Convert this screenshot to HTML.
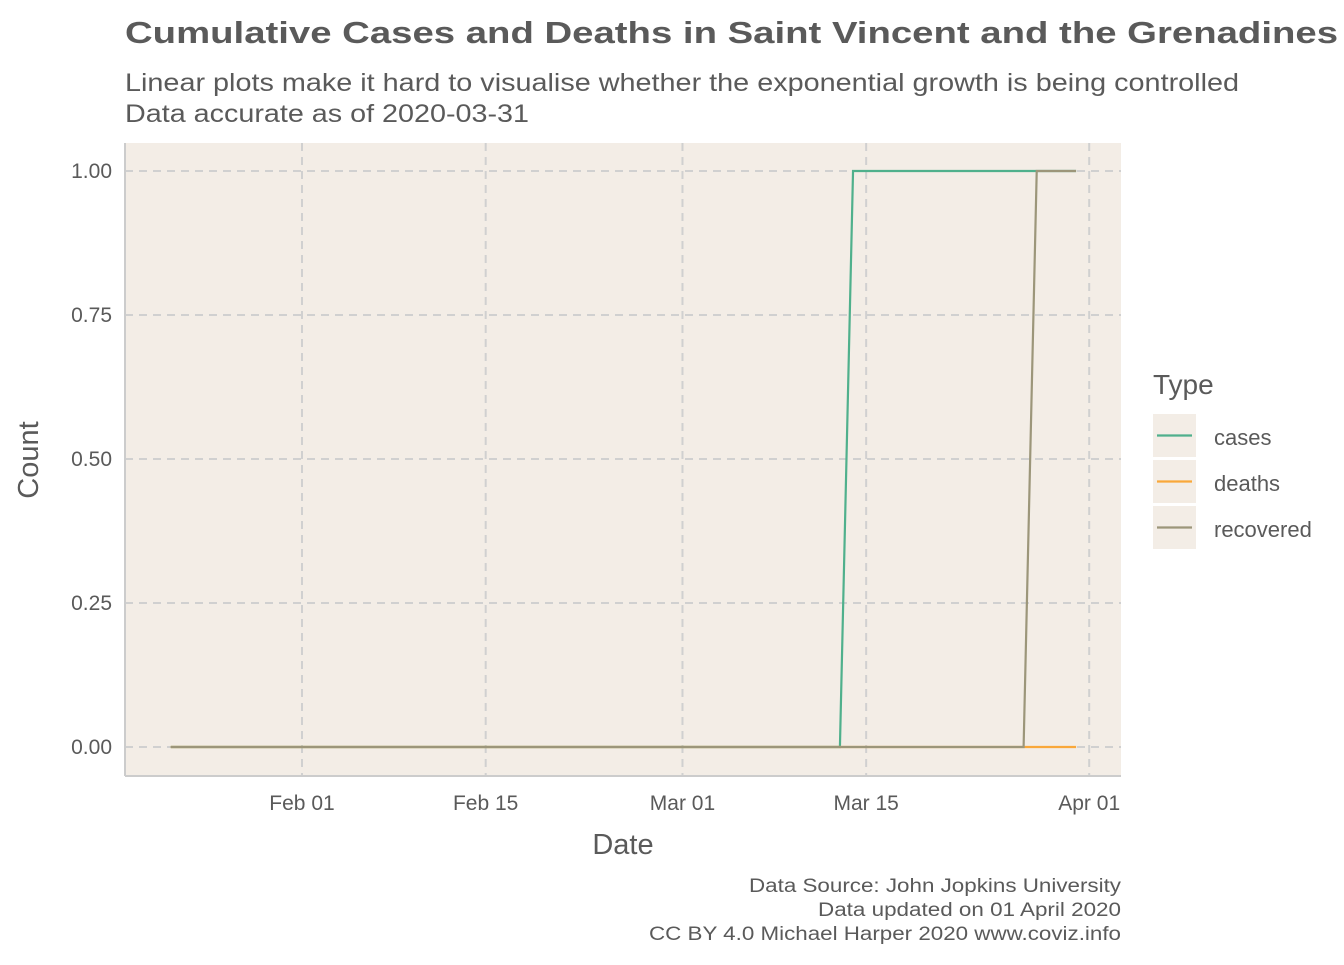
<!DOCTYPE html>
<html><head><meta charset="utf-8"><style>
body{margin:0;background:#fff;font-family:"Liberation Sans",Arial,sans-serif}
svg text{font-family:"Liberation Sans",Arial,sans-serif}
</style></head><body>
<svg id="chart" width="1344" height="960">
<text x="125" y="43" font-size="31" font-weight="bold" fill="#5a5a5a" textLength="1213" lengthAdjust="spacingAndGlyphs">Cumulative Cases and Deaths in Saint Vincent and the Grenadines</text>
<text x="125" y="91" font-size="25" fill="#5a5a5a" textLength="1114" lengthAdjust="spacingAndGlyphs">Linear plots make it hard to visualise whether the exponential growth is being controlled</text>
<text x="125" y="122" font-size="25" fill="#5a5a5a" textLength="404" lengthAdjust="spacingAndGlyphs">Data accurate as of 2020-03-31</text>
<rect x="125" y="143" width="996" height="633" fill="#f3ede6"/>
<g id="grid"></g>
<g id="lines"></g>
<line x1="125" y1="143" x2="125" y2="776" stroke="#cccccc" stroke-width="2"/>
<line x1="125" y1="776" x2="1121" y2="776" stroke="#cccccc" stroke-width="2"/>
<g id="ticks"></g>
<text x="623" y="854" font-size="29" fill="#5a5a5a" text-anchor="middle">Date</text>
<text transform="translate(38,460) rotate(-90)" font-size="29" fill="#5a5a5a" text-anchor="middle">Count</text>
<text x="1153" y="394" font-size="28" fill="#5a5a5a">Type</text>
<g id="legend"></g>
<text x="1121" y="892" font-size="19" fill="#5a5a5a" text-anchor="end" textLength="372" lengthAdjust="spacingAndGlyphs">Data Source: John Jopkins University</text>
<text x="1121" y="916" font-size="19" fill="#5a5a5a" text-anchor="end" textLength="303" lengthAdjust="spacingAndGlyphs">Data updated on 01 April 2020</text>
<text x="1121" y="940" font-size="19" fill="#5a5a5a" text-anchor="end" textLength="472" lengthAdjust="spacingAndGlyphs">CC BY 4.0 Michael Harper 2020 www.coviz.info</text>
</svg>
<script>
const seriesNames=["cases","deaths","recovered"];
const seriesColors=["#4fb08c","#f9a83a","#9c967a"];
// values: [day offset from 2020-01-22, value] step points
const casesValues=[[0,0],[51,0],[52,1],[69,1]];
const deathsValues=[[0,0],[69,0]];
const recoveredValues=[[0,0],[65,0],[66,1],[69,1]];
const yTicks=[0,0.25,0.5,0.75,1];
const yTickLabels=["0.00","0.25","0.50","0.75","1.00"];
const xTickDays=[10,24,39,53,70];
const xTickLabels=["Feb 01","Feb 15","Mar 01","Mar 15","Apr 01"];
const NS="http://www.w3.org/2000/svg";
const x=d=>170.8+d*13.12;
const y=v=>747-v*576;
function mk(t,a,p){const e=document.createElementNS(NS,t);for(const k in a)e.setAttribute(k,a[k]);p.appendChild(e);return e;}
const grid=document.getElementById('grid'),ticks=document.getElementById('ticks');
yTicks.forEach((v,i)=>{
 const l=mk('line',{x1:125,x2:1121,y1:y(v),y2:y(v),stroke:'#d0d0d0','stroke-width':2,'stroke-dasharray':'8,6'},grid);
 
 
 const t=mk('text',{x:112,y:y(v)+7,'font-size':21,fill:'#5a5a5a','text-anchor':'end'},ticks);
 t.textContent=yTickLabels[i];
 
 
});
xTickDays.forEach((d,i)=>{
 const l=mk('line',{x1:x(d),x2:x(d),y1:143,y2:776,stroke:'#d0d0d0','stroke-width':2,'stroke-dasharray':'8,6'},grid);
 
 
 const t=mk('text',{x:x(d),y:810,'font-size':21,fill:'#5a5a5a','text-anchor':'middle'},ticks);
 t.textContent=xTickLabels[i];
 
 
});
const lines=document.getElementById('lines');
[casesValues,deathsValues,recoveredValues].forEach((s,i)=>{
 const p=mk('polyline',{points:s.map(q=>x(q[0])+','+y(q[1])).join(' '),fill:'none',stroke:seriesColors[i],'stroke-width':2.2},lines);
 
 
});
const lg=document.getElementById('legend');
seriesNames.forEach((n,i)=>{
 const yy=414+i*46;
 const r=mk('rect',{x:1153,y:yy,width:43,height:43,fill:'#f3ede6'},lg);
 
 
 mk('line',{x1:1157,x2:1192,y1:yy+21.5,y2:yy+21.5,stroke:seriesColors[i],'stroke-width':2.2},lg);
 const t=mk('text',{x:1214,y:yy+31,'font-size':22,fill:'#5a5a5a'},lg);
 t.textContent=n;
 
 
});
</script>
</body></html>
